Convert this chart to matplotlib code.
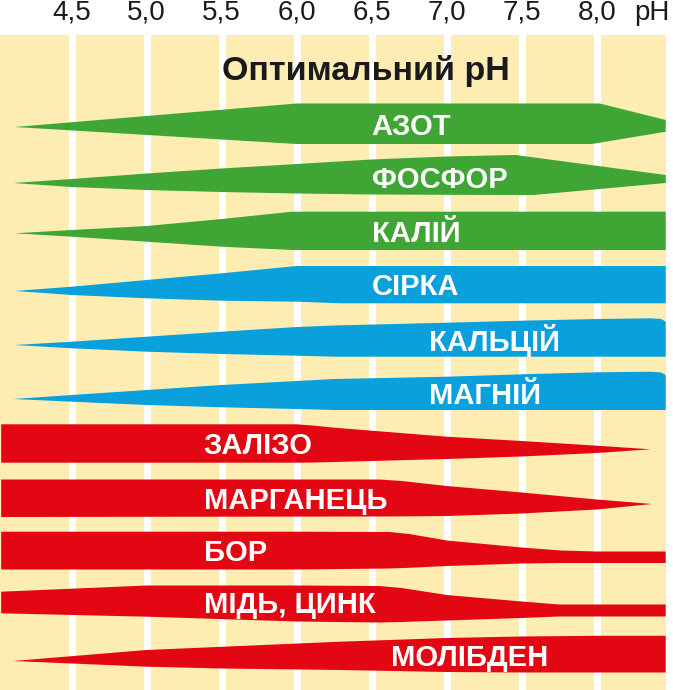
import numpy as np
import matplotlib
matplotlib.use('Agg')
import matplotlib.pyplot as plt

# nutrients, top to bottom
names = ['АЗОТ', 'ФОСФОР', 'КАЛІЙ', 'СІРКА', 'КАЛЬЦІЙ', 'МАГНІЙ',
         'ЗАЛІЗО', 'МАРГАНЕЦЬ', 'БОР', 'МІДЬ, ЦИНК', 'МОЛІБДЕН']
groups = ['macro', 'macro', 'macro', 'second', 'second', 'second',
          'micro', 'micro', 'micro', 'micro', 'micro']
label_ph = [6.5, 6.5, 6.5, 6.5, 6.88, 6.88, 5.38, 5.38, 5.38, 5.38, 6.63]

grid_ph = [4.5, 5.0, 5.5, 6.0, 6.5, 7.0, 7.5, 8.0]
tick_labels = ['4,5', '5,0', '5,5', '6,0', '6,5', '7,0', '7,5', '8,0']

# band outlines: pH points and upper / lower edge offsets from the row centre
# (px of the 690 px high picture, negative = up)
ph_azot = [4.12, 6.0, 7.97, 8.02, 8.46]
top_azot = [3, -20.5, -20.5, -20.5, -4]
bot_azot = [3, 20, 20, 18.7, 7.7]

ph_fosfor = [4.11, 4.5, 5.0, 5.5, 6.0, 6.5, 7.0, 7.46, 7.58, 8.46]
top_fosfor = [6, 2, -3.5, -8.5, -13, -17.5, -20.5, -22, -19.6, -2]
bot_fosfor = [6, 10, 13, 15, 16.5, 17.5, 17.8, 18, 18, 6]

ph_kaliy = [4.12, 4.5, 5.0, 5.5, 5.97, 8.46]
top_kaliy = [3.3, 0, -4, -11, -18.3, -18.3]
bot_kaliy = [3.3, 6.7, 11.7, 16.7, 20, 20]

ph_sirka = [4.12, 4.5, 5.0, 5.5, 6.0, 6.3, 8.46]
top_sirka = [8, 3.7, -3, -9.7, -17, -17, -17]
bot_sirka = [8, 12, 15.3, 17.7, 18.7, 20.3, 20.3]

ph_kalciy = [4.12, 4.5, 5.0, 5.5, 6.0, 6.25, 7.0, 7.5, 8.0, 8.36, 8.43, 8.46]
top_kalciy = [9, 5.7, 0.7, -4.3, -9, -10.5, -13.3, -15.3, -17, -17.7, -17, -14.3]
bot_kalciy = [9, 12.3, 15.7, 18, 19.7, 20.7, 20.7, 20.7, 20.7, 20.7, 20.7, 20.7]

ph_magniy = [4.11, 4.5, 5.0, 5.5, 6.0, 6.25, 7.0, 7.5, 8.0, 8.36, 8.43, 8.46]
top_magniy = [10, 6, 1, -4, -8, -10, -12.3, -14.7, -16.7, -17.3, -16.5, -14]
bot_magniy = [10, 12.7, 16, 18.3, 20, 21, 21, 21, 21, 21, 21, 21]

ph_zalizo = [4.03, 6.0, 6.12, 6.25, 7.0, 7.5, 8.0, 8.36]
top_zalizo = [-17.7, -17.7, -16.3, -14.3, -5.3, -1, 3.7, 7.3]
bot_zalizo = [20.7, 20.7, 20.5, 20, 17, 14.5, 11, 7.3]

ph_marganec = [4.03, 6.55, 6.7, 7.0, 7.5, 8.0, 8.37]
top_marganec = [-15.5, -15.5, -14, -9, -2.5, 4.5, 9]
bot_marganec = [22, 21.5, 21.4, 21, 18.5, 14.5, 9]

ph_bor = [4.03, 6.0, 6.62, 6.75, 7.0, 7.5, 7.76, 8.0, 8.46]
top_bor = [-16.3, -16.3, -16, -14, -7.5, -0.5, 2.5, 3.5, 3.5]
bot_bor = [21.5, 21.5, 20.5, 19.8, 18, 15.5, 15, 15, 15]

ph_mid = [4.03, 5.0, 6.0, 6.55, 6.7, 7.0, 7.5, 7.75, 8.46]
top_mid = [-9.3, -15.5, -15.5, -15, -13, -6, 0.5, 3.5, 3.5]
bot_mid = [12.3, 15.7, 20.5, 21.5, 21, 19.5, 17, 15.5, 15.5]

ph_molibden = [4.11, 5.0, 5.5, 6.29, 7.0, 7.5, 8.0, 8.46]
top_molibden = [7, -4, -7.2, -12.3, -16, -17.5, -18.2, -18.2]
bot_molibden = [7, 12.7, 14.5, 16, 18, 18.5, 18.5, 18.5]

bands = [(ph_azot, top_azot, bot_azot),
         (ph_fosfor, top_fosfor, bot_fosfor),
         (ph_kaliy, top_kaliy, bot_kaliy),
         (ph_sirka, top_sirka, bot_sirka),
         (ph_kalciy, top_kalciy, bot_kalciy),
         (ph_magniy, top_magniy, bot_magniy),
         (ph_zalizo, top_zalizo, bot_zalizo),
         (ph_marganec, top_marganec, bot_marganec),
         (ph_bor, top_bor, bot_bor),
         (ph_mid, top_mid, bot_mid),
         (ph_molibden, top_molibden, bot_molibden)]

colors = {'macro': '#3fa535', 'second': '#0aa0dc', 'micro': '#e30613'}
ROW_PX = 53.0   # px between row centres

fig = plt.figure(figsize=(6.73, 6.90), dpi=100)
ax = fig.add_axes([0, 0, 666 / 673, 655 / 690])
ax.set_xlim(4.022, 8.462)
ax.set_ylim(566 / ROW_PX, -89 / ROW_PX)
ax.set_facecolor('#fdedb3')
for s in ax.spines.values():
    s.set_visible(False)

for g in grid_ph:
    ax.axvline(g, color='white', lw=5.0, zorder=1)

for i, (ph, top, bot) in enumerate(bands):
    ph = np.array(ph)
    top = i + np.array(top) / ROW_PX
    bot = i + np.array(bot) / ROW_PX
    xs = np.concatenate([ph, ph[::-1]])
    ys = np.concatenate([top, bot[::-1]])
    ax.fill(xs, ys, color=colors[groups[i]], lw=0, zorder=2)

    mid = (np.interp(label_ph[i], ph, top) + np.interp(label_ph[i], ph, bot)) / 2
    ax.text(label_ph[i], mid + 10.8 / ROW_PX, names[i], color='white',
            fontsize=21, fontweight='bold', family='Liberation Sans',
            ha='left', va='baseline', zorder=3)

ax.text(6.46, -0.83, 'Оптимальний pH', color='#1a1a1a', fontsize=24.5,
        fontweight='bold', family='Liberation Sans', ha='center',
        va='baseline', zorder=3)

ax.xaxis.tick_top()
ax.set_xticks(grid_ph + [8.37])
ax.set_xticklabels(tick_labels + ['pH'], fontsize=20, family='Liberation Sans',
                   color='#1a1a1a')
ax.tick_params(axis='x', length=0, pad=6.5)
ax.set_yticks([])

fig.savefig('out.png', dpi=100)
